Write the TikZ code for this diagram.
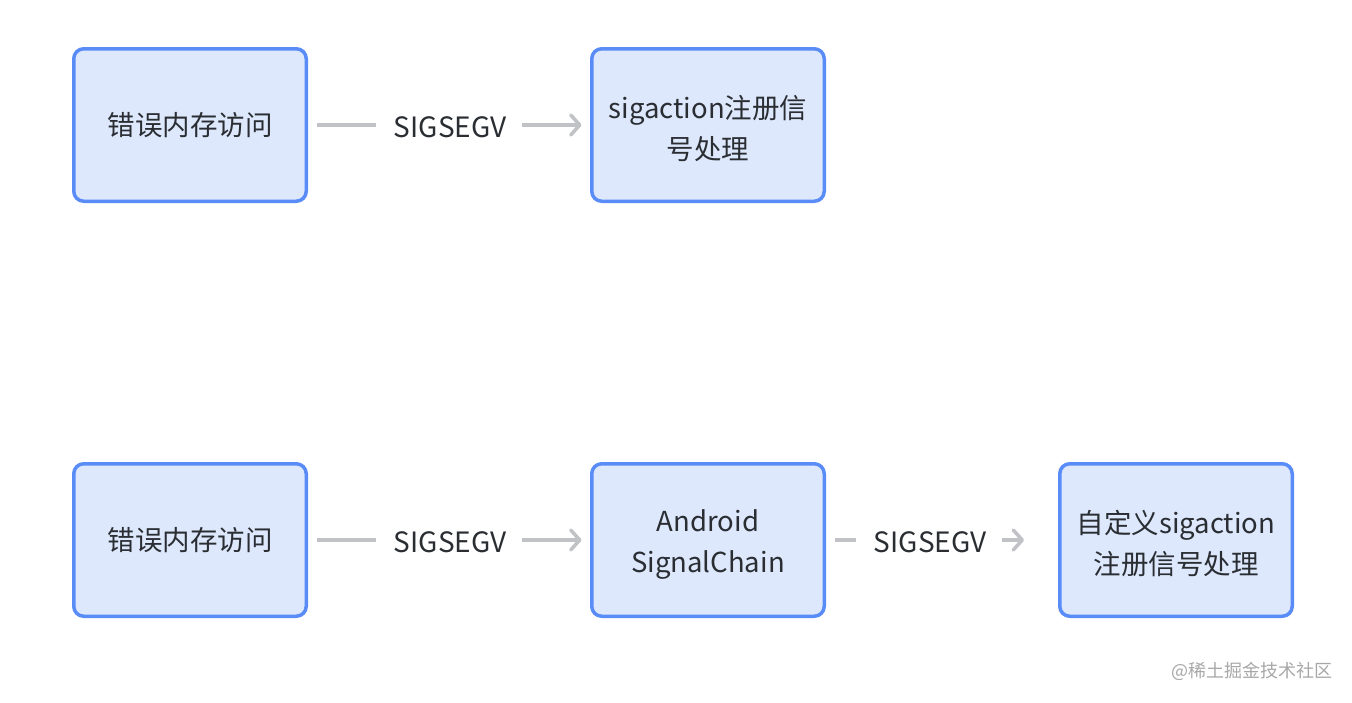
\documentclass[tikz,border=0pt]{standalone}
\usepackage{fontspec}
\setmainfont{Noto Sans CJK SC}
\usetikzlibrary{arrows.meta}
\definecolor{boxfill}{HTML}{DDE8FC}
\definecolor{boxline}{HTML}{5A8CF8}
\definecolor{txt}{HTML}{2A2E33}
\definecolor{conn}{HTML}{C0C2C6}
\definecolor{wm}{HTML}{A8A8A8}
\newcommand{\lowstrut}{\rule{0pt}{30pt}}
\tikzset{
  box/.style={draw=boxline, fill=boxfill, line width=3.5pt, rounded corners=10pt,
    minimum width=232.5pt, minimum height=152.5pt, text=txt, align=center,
    font=\fontsize{27.5pt}{41pt}\selectfont, inner sep=0pt},
  lbl/.style={text=txt, font=\fontsize{28pt}{30pt}\selectfont, inner sep=0pt, minimum width=112pt},
  link/.style={draw=conn, line width=3.5pt},
  arr/.style={link, -{Straight Barb[length=9pt,width=20pt,line width=3.5pt,round]}},
}
\begin{document}
\begin{tikzpicture}[x=1pt,y=-1pt]
\useasboundingbox[fill=white] (0,0) rectangle (1352,702);
% row 1
\node[box] (a1) at (190,125) {错误内存访问};
\node[lbl] (l1) at (450,127) {SIGSEGV};
\node[box] (b1) at (708,125) {\lowstrut sigaction注册信\\号处理};
\draw[link, shorten <=8.5pt, shorten >=18pt] (a1.east) -- (a1.east -| l1.west);
\draw[arr, shorten <=16pt, shorten >=8.5pt] (b1.west -| l1.east) -- (b1.west);
% row 2
\node[box] (a2) at (190,540) {错误内存访问};
\node[lbl] (l2) at (450,542) {SIGSEGV};
\node[box] (b2) at (708,540) {\lowstrut Android\\SignalChain};
\node[lbl] (l3) at (930,542) {SIGSEGV};
\node[box] (c2) at (1176,540) {\lowstrut 自定义sigaction\\注册信号处理};
\draw[link, shorten <=8.5pt, shorten >=18pt] (a2.east) -- (a2.east -| l2.west);
\draw[arr, shorten <=16pt, shorten >=8.5pt] (b2.west -| l2.east) -- (b2.west);
\draw[link, shorten <=8.5pt, shorten >=18pt] (b2.east) -- (b2.east -| l3.west);
\draw[arr, shorten <=16pt, shorten >=34pt] (c2.west -| l3.east) -- (c2.west);
% watermark
\node[text=wm, font=\fontsize{18pt}{20pt}\selectfont, anchor=east, inner sep=0pt] (wmk) at (1333,671) {@稀土掘金技术社区};
\end{tikzpicture}
\end{document}
